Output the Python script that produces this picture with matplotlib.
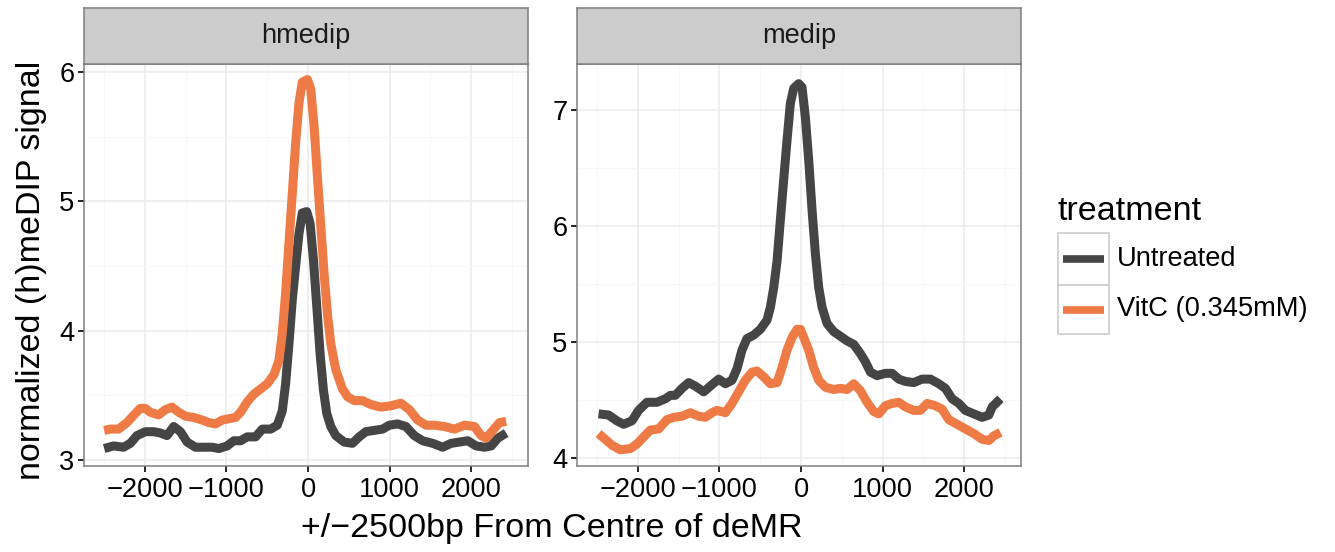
import matplotlib
matplotlib.use("Agg")
import matplotlib.pyplot as plt
from matplotlib.patches import Rectangle
from matplotlib.lines import Line2D

plt.rcParams['font.family'] = ['Liberation Sans', 'DejaVu Sans']

# ---------------- data ----------------
panels = ["hmedip", "medip"]
treatments = ["Untreated", "VitC (0.345mM)"]
colors = {"Untreated": "#454545", "VitC (0.345mM)": "#ee7b45"}

hm_untr_x = [-2500, -2385, -2262, -2180, -2098, -1996, -1893, -1811, -1729, -1647, -1565, -1483,
             -1381, -1279, -1176, -1094, -992, -910, -828, -746, -643, -561, -459, -377, -316,
             -275, -234, -193, -152, -111, -70, -16, 25, 66, 107, 148, 189, 230, 279, 340, 443,
             545, 627, 709, 811, 914, 996, 1098, 1200, 1303, 1406, 1529, 1652, 1754, 1857, 1959,
             2061, 2164, 2246, 2328, 2430]
hm_untr_y = [3.09, 3.11, 3.10, 3.13, 3.19, 3.22, 3.22, 3.21, 3.19, 3.26, 3.22, 3.14,
             3.10, 3.10, 3.10, 3.09, 3.11, 3.15, 3.15, 3.18, 3.18, 3.24, 3.24, 3.27, 3.38,
             3.59, 3.90, 4.24, 4.50, 4.75, 4.91, 4.92, 4.83, 4.55, 4.19, 3.82, 3.54, 3.36, 3.26,
             3.19, 3.14, 3.13, 3.18, 3.22, 3.23, 3.24, 3.27, 3.28, 3.26, 3.19, 3.15, 3.13, 3.10,
             3.13, 3.14, 3.15, 3.11, 3.10, 3.11, 3.17, 3.21]

hm_vitc_x = [-2500, -2426, -2324, -2221, -2119, -2057, -1996, -1934, -1832, -1750, -1668, -1586,
             -1504, -1402, -1299, -1217, -1135, -1053, -971, -889, -828, -746, -664, -582, -500,
             -418, -357, -316, -275, -234, -193, -152, -111, -70, -8, 33, 74, 115, 156, 197, 238,
             279, 340, 422, 484, 566, 668, 770, 893, 1016, 1139, 1242, 1344, 1447, 1549, 1672,
             1795, 1918, 2041, 2123, 2184, 2266, 2348, 2430]
hm_vitc_y = [3.23, 3.24, 3.24, 3.29, 3.36, 3.40, 3.40, 3.37, 3.35, 3.39, 3.41, 3.37,
             3.34, 3.33, 3.31, 3.29, 3.28, 3.31, 3.32, 3.33, 3.37, 3.45, 3.51, 3.55, 3.59,
             3.66, 3.77, 3.98, 4.29, 4.68, 5.06, 5.45, 5.76, 5.92, 5.94, 5.87, 5.58, 5.19, 4.81,
             4.44, 4.13, 3.90, 3.70, 3.55, 3.49, 3.46, 3.46, 3.43, 3.41, 3.42, 3.44, 3.39, 3.31,
             3.27, 3.27, 3.26, 3.24, 3.27, 3.26, 3.19, 3.17, 3.23, 3.29, 3.30]

me_untr_x = [-2483, -2360, -2258, -2176, -2074, -1992, -1890, -1767, -1665, -1603, -1542, -1460,
             -1378, -1297, -1194, -1112, -1010, -928, -847, -785, -724, -663, -581, -499, -417,
             -376, -335, -294, -254, -213, -172, -131, -90, -29, 12, 53, 94, 135, 176, 217, 258,
             319, 401, 483, 564, 646, 728, 789, 851, 932, 1035, 1117, 1198, 1280, 1382, 1485,
             1587, 1689, 1771, 1853, 1935, 2016, 2119, 2221, 2303, 2344, 2446]
me_untr_y = [4.38, 4.37, 4.32, 4.29, 4.32, 4.41, 4.48, 4.48, 4.51, 4.54, 4.54, 4.60,
             4.65, 4.62, 4.57, 4.62, 4.68, 4.64, 4.67, 4.77, 4.93, 5.03, 5.06, 5.11, 5.19,
             5.30, 5.47, 5.70, 6.05, 6.40, 6.74, 7.06, 7.19, 7.23, 7.20, 6.94, 6.57, 6.14, 5.76,
             5.47, 5.30, 5.16, 5.09, 5.05, 5.01, 4.98, 4.90, 4.83, 4.74, 4.71, 4.73, 4.73, 4.68,
             4.66, 4.65, 4.68, 4.68, 4.64, 4.60, 4.51, 4.47, 4.41, 4.38, 4.35, 4.37, 4.44, 4.51]

me_vitc_x = [-2483, -2401, -2319, -2217, -2094, -2012, -1931, -1849, -1746, -1644, -1562, -1460,
             -1358, -1256, -1174, -1092, -1031, -928, -847, -765, -683, -601, -540, -458, -376,
             -294, -233, -172, -110, -49, -8, 33, 94, 155, 217, 299, 401, 483, 564, 646, 728,
             810, 892, 953, 1035, 1117, 1198, 1280, 1382, 1464, 1546, 1648, 1730, 1812, 1914,
             2016, 2119, 2221, 2303, 2364, 2446]
me_vitc_y = [4.21, 4.16, 4.11, 4.07, 4.08, 4.12, 4.18, 4.24, 4.25, 4.33, 4.35, 4.36,
             4.39, 4.36, 4.35, 4.39, 4.41, 4.39, 4.47, 4.57, 4.67, 4.74, 4.75, 4.70, 4.64,
             4.65, 4.78, 4.93, 5.04, 5.11, 5.11, 5.04, 4.93, 4.78, 4.67, 4.61, 4.59, 4.60, 4.59,
             4.64, 4.58, 4.48, 4.40, 4.38, 4.45, 4.47, 4.48, 4.44, 4.41, 4.41, 4.47, 4.45, 4.42,
             4.33, 4.29, 4.25, 4.21, 4.16, 4.15, 4.19, 4.22]

series = {
    "hmedip": {"Untreated": (hm_untr_x, hm_untr_y), "VitC (0.345mM)": (hm_vitc_x, hm_vitc_y)},
    "medip": {"Untreated": (me_untr_x, me_untr_y), "VitC (0.345mM)": (me_vitc_x, me_vitc_y)},
}
x_ticks = [-2000, -1000, 0, 1000, 2000]
x_minor = [-2500, -1500, -500, 500, 1500, 2500]
y_ticks = {"hmedip": [3, 4, 5, 6], "medip": [4, 5, 6, 7]}
y_minor = {"hmedip": [3.5, 4.5, 5.5], "medip": [4.5, 5.5, 6.5]}
y_lims = {"hmedip": (2.955, 6.06), "medip": (3.93, 7.40)}

# ---------------- figure ----------------
W, H = 1335, 552
fig = plt.figure(figsize=(W / 100, H / 100), dpi=100)
fig.patch.set_facecolor("white")

def fx(px):
    return px / W

def fy(py):
    return 1 - py / H

base = 24.5
small = base * 0.8
border_col = "#7f7f7f"

panel_left = {"hmedip": 84, "medip": 577}
panel_w = 444
panel_top, panel_bot = 64, 466
strip_top = 8

for name in panels:
    L = panel_left[name]
    ax = fig.add_axes([fx(L), fy(panel_bot), panel_w / W, (panel_bot - panel_top) / H])
    ax.set_xlim(-2747.5, 2697.5)
    ax.set_ylim(*y_lims[name])
    ax.set_xticks(x_ticks)
    ax.set_xticklabels([f"{t}".replace("-", "\u2212") for t in x_ticks])
    ax.set_xticks(x_minor, minor=True)
    ax.set_yticks(y_ticks[name])
    ax.set_yticklabels([str(t) for t in y_ticks[name]])
    ax.set_yticks(y_minor[name], minor=True)
    ax.grid(which="major", color="#ebebeb", linewidth=1.1)
    ax.grid(which="minor", color="#f7f7f7", linewidth=0.6)
    ax.set_axisbelow(True)
    ax.tick_params(which="major", length=4, width=1.2, color="black",
                   labelsize=small, labelcolor="black", pad=3)
    ax.tick_params(axis="x", which="major", pad=4)
    ax.tick_params(which="minor", length=0)
    for sp in ax.spines.values():
        sp.set_color(border_col)
        sp.set_linewidth(1.1)
    for tr in treatments:
        xs, ys = series[name][tr]
        ax.plot(xs, ys, color=colors[tr], linewidth=6.5, solid_capstyle="butt",
                solid_joinstyle="round")
    # strip
    sax = fig.add_axes([fx(L), fy(panel_top), panel_w / W, (panel_top - strip_top) / H])
    sax.set_facecolor("#cccccc")
    sax.set_xticks([])
    sax.set_yticks([])
    for sp in sax.spines.values():
        sp.set_color(border_col)
        sp.set_linewidth(1.1)
    sax.text(0.5, 0.5, name, ha="center", va="center", fontsize=small,
             color="#1a1a1a", transform=sax.transAxes)

fig.text(fx(32), fy(270), "normalized (h)meDIP signal", rotation=90, ha="center",
         va="center", fontsize=base, color="black")
fig.text(fx(552), fy(529), "+/\u22122500bp From Centre of deMR", ha="center",
         va="center", fontsize=base, color="black")

# ---------------- legend ----------------
lax = fig.add_axes([0, 0, 1, 1], facecolor="none")
lax.set_xlim(0, W)
lax.set_ylim(H, 0)
lax.axis("off")
lax.text(1058, 212, "treatment", ha="left", va="center", fontsize=base, color="black")
rows = [(233, 285), (285, 334)]
for (top, bot), tr in zip(rows, treatments):
    lax.add_patch(Rectangle((1058, top), 51, bot - top, facecolor="white",
                            edgecolor="#cccccc", linewidth=1.2))
    mid = (top + bot) / 2
    lax.add_line(Line2D([1063, 1104], [mid, mid], color=colors[tr], linewidth=5.5,
                        solid_capstyle="butt"))
    lax.text(1117, mid, tr, ha="left", va="center", fontsize=small, color="black")

fig.savefig("out.png", dpi=100)
